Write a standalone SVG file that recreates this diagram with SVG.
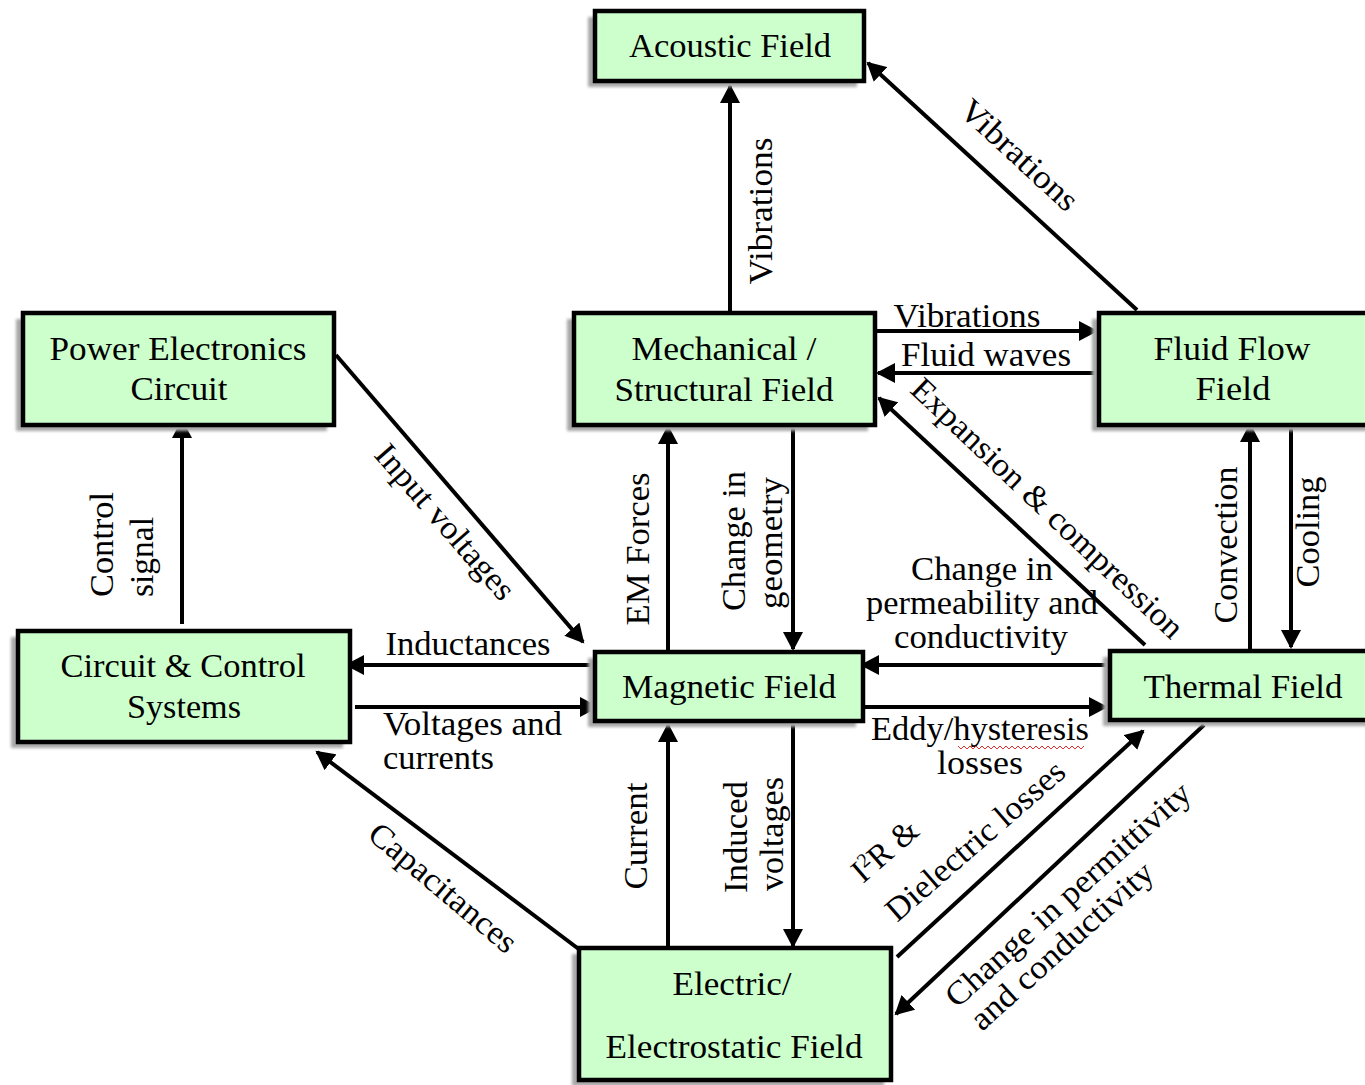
<svg xmlns="http://www.w3.org/2000/svg" width="1365" height="1085" viewBox="0 0 1365 1085">
<defs>
<marker id="ah" markerUnits="userSpaceOnUse" markerWidth="20" markerHeight="20" refX="17" refY="10" orient="auto">
<path d="M0,0 L19,10 L0,20 z" fill="#000"/>
</marker>
<filter id="blur" x="-10%" y="-10%" width="120%" height="120%"><feGaussianBlur stdDeviation="1.5"/></filter>
</defs>
<style>
.box{fill:#ccffcc;stroke:#000;stroke-width:4.5}
.sh{fill:#a8a8a8;filter:url(#blur)}
text{font-family:"Liberation Serif","Times New Roman",serif;font-size:33px;fill:#000}
.c{text-anchor:middle}
.ln{stroke:#000;stroke-width:4;fill:none;marker-end:url(#ah)}
</style>
<rect width="1365" height="1085" fill="#fff"/>

<g id="connectors">
<line class="ln" x1="730" y1="312" x2="730" y2="86"/>
<line class="ln" x1="1137" y1="310" x2="868" y2="63"/>
<line class="ln" x1="877" y1="331" x2="1096" y2="331"/>
<line class="ln" x1="1098" y1="373" x2="878" y2="373"/>
<line class="ln" x1="1145" y1="645" x2="879" y2="398"/>
<line class="ln" x1="336" y1="355" x2="583" y2="642"/>
<line class="ln" x1="182" y1="624" x2="182" y2="421"/>
<line class="ln" x1="594" y1="665" x2="347" y2="665"/>
<line class="ln" x1="355" y1="707" x2="597" y2="707"/>
<line class="ln" x1="668" y1="651" x2="668" y2="427"/>
<line class="ln" x1="793" y1="427" x2="793" y2="649"/>
<line class="ln" x1="1108" y1="665" x2="862" y2="665"/>
<line class="ln" x1="864" y1="707" x2="1106" y2="707"/>
<line class="ln" x1="668" y1="947" x2="668" y2="725"/>
<line class="ln" x1="793" y1="722" x2="793" y2="946"/>
<line class="ln" x1="580" y1="950" x2="317" y2="752"/>
<line class="ln" x1="897" y1="957" x2="1143" y2="731"/>
<line class="ln" x1="1204" y1="725" x2="896" y2="1014"/>
<line class="ln" x1="1250" y1="649" x2="1250" y2="425"/>
<line class="ln" x1="1291" y1="427" x2="1291" y2="647"/>
</g>

<g id="acoustic">
<rect class="sh" x="588" y="17" width="269" height="70"/>
<rect class="box" x="595" y="11" width="269" height="70"/>
<text class="c" x="730" y="57" textLength="202" lengthAdjust="spacingAndGlyphs">Acoustic Field</text>
</g>
<g id="mechanical">
<rect class="sh" x="567" y="319" width="301" height="112"/>
<rect class="box" x="574" y="313" width="301" height="112"/>
<text class="c" x="724" y="360" textLength="185" lengthAdjust="spacingAndGlyphs">Mechanical /</text>
<text class="c" x="724" y="401" textLength="219" lengthAdjust="spacingAndGlyphs">Structural Field</text>
</g>
<g id="fluid">
<rect class="sh" x="1092" y="319" width="290" height="112"/>
<rect class="box" x="1099" y="313" width="290" height="112"/>
<text class="c" x="1232" y="360" textLength="157" lengthAdjust="spacingAndGlyphs">Fluid Flow</text>
<text class="c" x="1233" y="400" textLength="75" lengthAdjust="spacingAndGlyphs">Field</text>
</g>
<g id="power">
<rect class="sh" x="16" y="319" width="311" height="112"/>
<rect class="box" x="23" y="313" width="311" height="112"/>
<text class="c" x="178" y="360" textLength="257" lengthAdjust="spacingAndGlyphs">Power Electronics</text>
<text class="c" x="179" y="400" textLength="97" lengthAdjust="spacingAndGlyphs">Circuit</text>
</g>
<g id="circuit">
<rect class="sh" x="11" y="637" width="332" height="111"/>
<rect class="box" x="18" y="631" width="332" height="111"/>
<text class="c" x="183" y="677" textLength="245" lengthAdjust="spacingAndGlyphs">Circuit &amp; Control</text>
<text class="c" x="184" y="718" textLength="114" lengthAdjust="spacingAndGlyphs">Systems</text>
</g>
<g id="magnetic">
<rect class="sh" x="588" y="658" width="268" height="69"/>
<rect class="box" x="595" y="652" width="268" height="69"/>
<text class="c" x="729" y="698" textLength="214" lengthAdjust="spacingAndGlyphs">Magnetic Field</text>
</g>
<g id="thermal">
<rect class="sh" x="1103" y="657" width="280" height="69"/>
<rect class="box" x="1110" y="651" width="280" height="69"/>
<text class="c" x="1243" y="698" textLength="199" lengthAdjust="spacingAndGlyphs">Thermal Field</text>
</g>
<g id="electric">
<rect class="sh" x="572" y="954" width="312" height="132"/>
<rect class="box" x="579" y="948" width="312" height="132"/>
<text class="c" x="732" y="995" textLength="119" lengthAdjust="spacingAndGlyphs">Electric/</text>
<text class="c" x="734" y="1058" textLength="257" lengthAdjust="spacingAndGlyphs">Electrostatic Field</text>
</g>

<g id="labels">
<text class="c" transform="translate(772,211) rotate(-90)" textLength="147" lengthAdjust="spacingAndGlyphs">Vibrations</text>
<text class="c" transform="translate(1012,163) rotate(42.6)" textLength="148" lengthAdjust="spacingAndGlyphs">Vibrations</text>
<text class="c" x="967" y="327" textLength="147" lengthAdjust="spacingAndGlyphs">Vibrations</text>
<text class="c" x="986" y="366" textLength="170" lengthAdjust="spacingAndGlyphs">Fluid waves</text>
<text class="c" transform="translate(1040,516) rotate(43.5)" textLength="362" lengthAdjust="spacingAndGlyphs">Expansion &amp; compression</text>
<text class="c" transform="translate(437,529) rotate(49)" textLength="195" lengthAdjust="spacingAndGlyphs">Input voltages</text>
<text transform="translate(113,597) rotate(-90)" textLength="105" lengthAdjust="spacingAndGlyphs">Control</text>
<text transform="translate(153,597) rotate(-90)" textLength="80" lengthAdjust="spacingAndGlyphs">signal</text>
<text class="c" x="468" y="655" textLength="165" lengthAdjust="spacingAndGlyphs">Inductances</text>
<text x="383" y="735" textLength="179" lengthAdjust="spacingAndGlyphs">Voltages and</text>
<text x="383" y="769" textLength="111" lengthAdjust="spacingAndGlyphs">currents</text>
<text class="c" transform="translate(649,549) rotate(-90)" textLength="153" lengthAdjust="spacingAndGlyphs">EM Forces</text>
<text class="c" transform="translate(745,541) rotate(-90)" textLength="140" lengthAdjust="spacingAndGlyphs">Change in</text>
<text class="c" transform="translate(782,543) rotate(-90)" textLength="132" lengthAdjust="spacingAndGlyphs">geometry</text>
<text class="c" x="982" y="580" textLength="142" lengthAdjust="spacingAndGlyphs">Change in</text>
<text class="c" x="982" y="614" textLength="232" lengthAdjust="spacingAndGlyphs">permeability and</text>
<text class="c" x="981" y="648" textLength="174" lengthAdjust="spacingAndGlyphs">conductivity</text>
<text class="c" x="980" y="740" textLength="218" lengthAdjust="spacingAndGlyphs">Eddy/hysteresis</text>
<path d="M958,746 l3,3 l3,-3 l3,3 l3,-3 l3,3 l3,-3 l3,3 l3,-3 l3,3 l3,-3 l3,3 l3,-3 l3,3 l3,-3 l3,3 l3,-3 l3,3 l3,-3 l3,3 l3,-3 l3,3 l3,-3 l3,3 l3,-3 l3,3 l3,-3 l3,3 l3,-3 l3,3 l3,-3 l3,3 l3,-3 l3,3 l3,-3 l3,3 l3,-3 l3,3 l3,-3 l3,3 l3,-3 l3,3 l3,-3" fill="none" stroke="#e03030" stroke-width="1"/>
<text class="c" x="980" y="774" textLength="86" lengthAdjust="spacingAndGlyphs">losses</text>
<text class="c" transform="translate(647,836) rotate(-90)" textLength="107" lengthAdjust="spacingAndGlyphs">Current</text>
<text class="c" transform="translate(747,837) rotate(-90)" textLength="112" lengthAdjust="spacingAndGlyphs">Induced</text>
<text class="c" transform="translate(783,834) rotate(-90)" textLength="114" lengthAdjust="spacingAndGlyphs">voltages</text>
<text class="c" transform="translate(436,896) rotate(40)" textLength="183" lengthAdjust="spacingAndGlyphs">Capacitances</text>
<text transform="translate(863,884) rotate(-41)">I<tspan dy="-11" font-size="20">2</tspan><tspan dy="11">R &amp;</tspan></text>
<text transform="translate(897,923) rotate(-41)" textLength="226" lengthAdjust="spacingAndGlyphs">Dielectric losses</text>
<text transform="translate(957,1009) rotate(-42)" textLength="318" lengthAdjust="spacingAndGlyphs">Change in permittivity</text>
<text transform="translate(982,1032) rotate(-42)" textLength="234" lengthAdjust="spacingAndGlyphs">and conductivity</text>
<text class="c" transform="translate(1237,545) rotate(-90)" textLength="157" lengthAdjust="spacingAndGlyphs">Convection</text>
<text class="c" transform="translate(1319,532) rotate(-90)" textLength="111" lengthAdjust="spacingAndGlyphs">Cooling</text>
</g>
</svg>
